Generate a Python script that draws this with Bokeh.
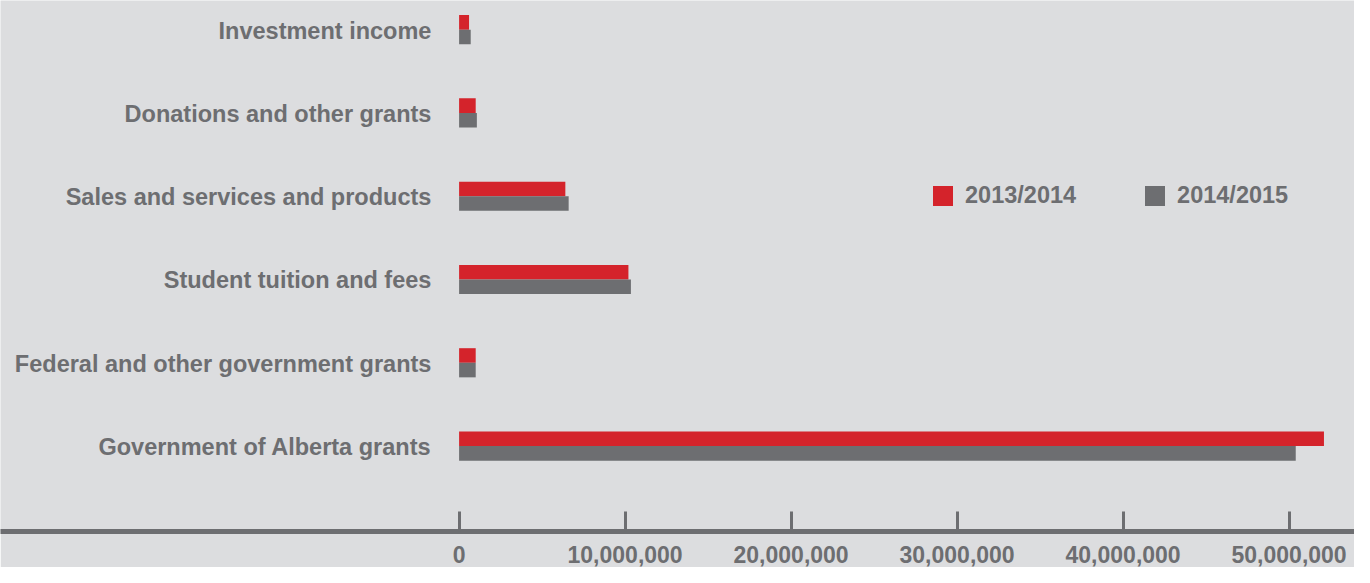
from bokeh.plotting import figure
from bokeh.models import ColumnDataSource, Range1d, FixedTicker, NumeralTickFormatter, Legend, LegendItem
from bokeh.transform import dodge
from bokeh.core.properties import value
from bokeh.embed import file_html
from bokeh.resources import INLINE

categories = [
    "Government of Alberta grants",
    "Federal and other government grants",
    "Student tuition and fees",
    "Sales and services and products",
    "Donations and other grants",
    "Investment income",
]
values_2013_2014 = [52.1e6, 1.0e6, 10.2e6, 6.4e6, 1.0e6, 0.6e6]
values_2014_2015 = [50.4e6, 1.0e6, 10.35e6, 6.6e6, 1.07e6, 0.7e6]
series_names = ["2013/2014", "2014/2015"]
tick_values = [0, 10_000_000, 20_000_000, 30_000_000, 40_000_000, 50_000_000]

BG = "#dcdddf"
RED = "#d4232b"
GREY = "#6d6e71"
TXT = "#6d6e71"
FONT = "Liberation Sans"

W, H = 1354, 567
px_per_unit = 16.60e-6  # pixels per dollar
zero_px = 458.6
x_start = -zero_px / px_per_unit
x_end = (W - zero_px) / px_per_unit

source = ColumnDataSource(dict(
    y=list(range(len(categories))),
    cat=categories,
    a=values_2013_2014,
    b=values_2014_2015,
))

p = figure(width=W, height=H, output_backend="svg", toolbar_location=None,
           x_range=Range1d(x_start, x_end), y_range=Range1d(-1.026, 5.35),
           y_axis_location=None,
           min_border_left=0, min_border_right=0, min_border_top=0, min_border_bottom=36)
p.background_fill_color = BG
p.border_fill_color = BG
p.outline_line_color = None
p.grid.visible = False

bh = 0.175
r1 = p.hbar(y=dodge("y", bh / 2), left=0, right="a", height=bh, source=source,
            fill_color=RED, line_color=None)
r2 = p.hbar(y=dodge("y", -bh / 2), left=0, right="b", height=bh, source=source,
            fill_color=GREY, line_color=None)

p.text(x=0, y="y", text="cat", source=source, x_offset=-27.7, y_offset=1,
       text_align="right", text_baseline="middle",
       text_font=value(FONT), text_font_style="bold", text_font_size="23.5px",
       text_color=TXT)

ax = p.xaxis[0]
ax.ticker = FixedTicker(ticks=tick_values)
ax.formatter = NumeralTickFormatter(format="0,0")
ax.axis_line_color = GREY
ax.axis_line_width = 5
ax.major_tick_line_color = GREY
ax.major_tick_line_width = 3
ax.major_tick_in = 20
ax.major_tick_out = 0
ax.minor_tick_line_color = None
ax.major_label_standoff = 14
ax.major_label_text_font = FONT
ax.major_label_text_font_style = "bold"
ax.major_label_text_font_size = "23px"
ax.major_label_text_color = TXT

legend = Legend(items=[LegendItem(label=series_names[0], renderers=[r1]),
                       LegendItem(label=series_names[1], renderers=[r2])],
                orientation="horizontal", location=(930, 322),
                glyph_width=25, glyph_height=25, label_standoff=10, spacing=66,
                padding=0, margin=0, border_line_color=None, background_fill_alpha=0,
                label_text_font=FONT, label_text_font_style="bold",
                label_text_font_size="23.5px", label_text_color=TXT)
p.add_layout(legend)

open("out.html", "w").write(file_html(p, INLINE))
